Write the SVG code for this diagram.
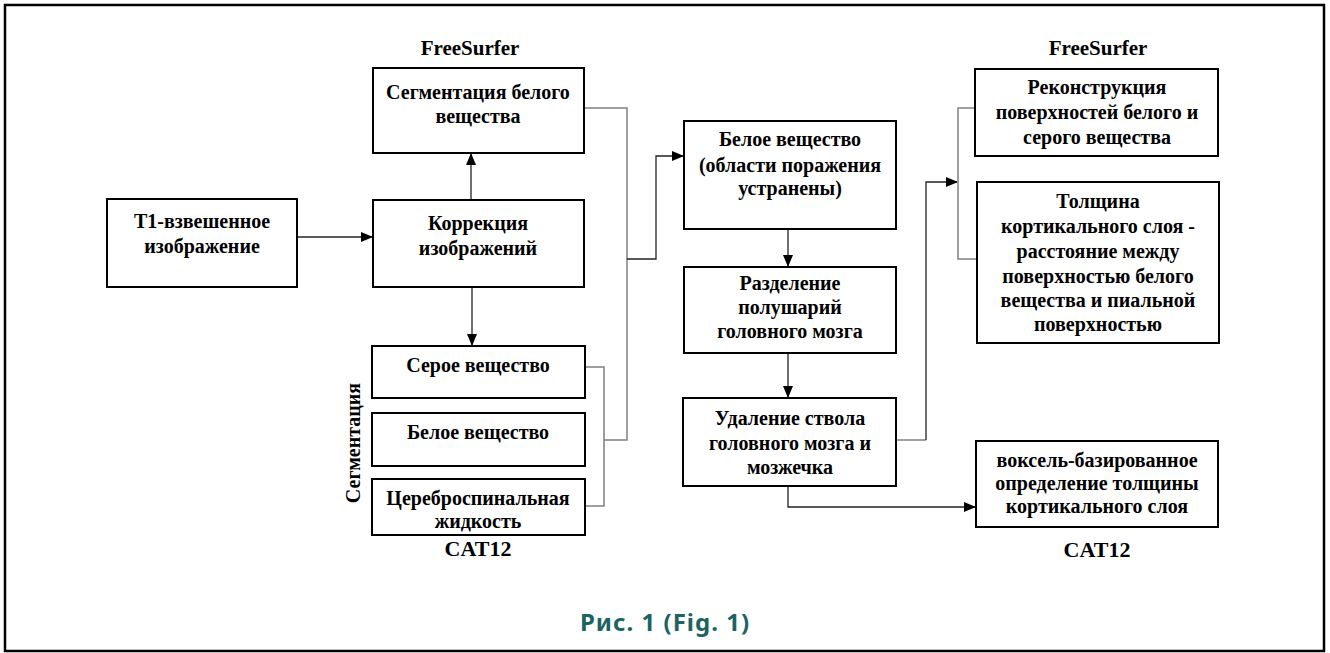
<svg xmlns="http://www.w3.org/2000/svg" width="1330" height="653" viewBox="0 0 1330 653">
<style>
.box{fill:#fff;stroke:#000;stroke-width:2}
.t{font-family:"Liberation Serif","Times New Roman",serif;font-weight:bold;font-size:20px;fill:#000;text-anchor:middle}
.lbl{font-family:"Liberation Serif","Times New Roman",serif;font-weight:bold;font-size:21px;fill:#000;text-anchor:middle}
.cat{font-family:"Liberation Serif","Times New Roman",serif;font-weight:bold;font-size:22px;fill:#000;text-anchor:middle}
.br{fill:none;stroke:#808080;stroke-width:1.5}
.ar{fill:none;stroke:#222;stroke-width:1.3}
.cap{font-family:"Noto Sans","DejaVu Sans",sans-serif;font-weight:bold;font-size:24px;letter-spacing:1px;fill:#1b6461;text-anchor:middle}
</style>
<defs>
<marker id="ah" markerUnits="userSpaceOnUse" markerWidth="12" markerHeight="10" refX="11" refY="5" orient="auto">
<path d="M0,0 L12,5 L0,10 Z" fill="#000"/>
</marker>
</defs>
<rect x="0" y="0" width="1330" height="653" fill="#fff"/>
<rect x="5" y="5" width="1319" height="646" fill="none" stroke="#000" stroke-width="2.5"/>

<g id="connectors">
<path class="ar" d="M297,237 L372,237" marker-end="url(#ah)"/>
<path class="ar" d="M471,200 L471,154" marker-end="url(#ah)"/>
<path class="ar" d="M472,287 L472,345" marker-end="url(#ah)"/>
<path class="br" d="M584,108 L627,108 L627,440 L604,440"/>
<path class="br" d="M585,367 L604,367 L604,506 L585,506"/>
<path class="ar" d="M627,259 L656,259 L656,156 L683,156" marker-end="url(#ah)"/>
<path class="ar" d="M788,229 L788,266" marker-end="url(#ah)"/>
<path class="ar" d="M788,353 L788,397" marker-end="url(#ah)"/>
<path class="br" d="M896,440 L926,440"/>
<path class="ar" d="M926,440 L926,182 L957,182" marker-end="url(#ah)"/>
<path class="br" d="M975,108 L958,108 L958,259 L977,259"/>
<path class="ar" d="M788,486 L788,507 L975,507" marker-end="url(#ah)"/>
</g>

<g id="label-freesurfer-left"><text class="lbl" x="470" y="55">FreeSurfer</text></g>
<g id="label-freesurfer-right"><text class="lbl" x="1098" y="55">FreeSurfer</text></g>
<g id="label-cat12-left"><text class="cat" x="478" y="556">CAT12</text></g>
<g id="label-cat12-right"><text class="cat" x="1097" y="557">CAT12</text></g>
<g id="label-segm"><text class="t" transform="translate(360,443) rotate(-90)" x="0" y="0">Сегментация</text></g>

<g id="t1">
<rect class="box" x="107" y="199" width="190" height="88"/>
<text class="t" x="202" y="228">Т1-взвешенное</text>
<text class="t" x="202" y="253">изображение</text>
</g>
<g id="wm-seg">
<rect class="box" x="373" y="68" width="211" height="85"/>
<text class="t" x="478" y="99">Сегментация белого</text>
<text class="t" x="478" y="123">вещества</text>
</g>
<g id="correction">
<rect class="box" x="373" y="200" width="211" height="87"/>
<text class="t" x="478" y="230">Коррекция</text>
<text class="t" x="478" y="255">изображений</text>
</g>
<g id="gm">
<rect class="box" x="372" y="346" width="213" height="52"/>
<text class="t" x="478" y="372">Серое вещество</text>
</g>
<g id="wm">
<rect class="box" x="372" y="413" width="213" height="53"/>
<text class="t" x="478" y="439">Белое вещество</text>
</g>
<g id="csf">
<rect x="372" y="479" width="213" height="56" fill="#fff"/>
<text class="t" x="478" y="505">Цереброспинальная</text>
<text class="t" x="478" y="528">жидкость</text>
<rect x="372" y="479" width="213" height="56" fill="none" stroke="#000" stroke-width="2"/>
</g>
<g id="wm-clean">
<rect class="box" x="684" y="121" width="212" height="108"/>
<text class="t" x="790" y="146">Белое вещество</text>
<text class="t" x="790" y="172">(области поражения</text>
<text class="t" x="790" y="195">устранены)</text>
</g>
<g id="hemi">
<rect class="box" x="684" y="267" width="212" height="86"/>
<text class="t" x="790" y="290">Разделение</text>
<text class="t" x="790" y="314">полушарий</text>
<text class="t" x="790" y="338">головного мозга</text>
</g>
<g id="brainstem">
<rect class="box" x="683" y="398" width="213" height="88"/>
<text class="t" x="790" y="425">Удаление ствола</text>
<text class="t" x="790" y="450">головного мозга и</text>
<text class="t" x="790" y="474">мозжечка</text>
</g>
<g id="recon">
<rect class="box" x="975" y="69" width="243" height="87"/>
<text class="t" x="1097" y="94">Реконструкция</text>
<text class="t" x="1097" y="119">поверхностей белого и</text>
<text class="t" x="1097" y="144">серого вещества</text>
</g>
<g id="thickness">
<rect class="box" x="977" y="182" width="242" height="161"/>
<text class="t" x="1098" y="208">Толщина</text>
<text class="t" x="1098" y="233">кортикального слоя -</text>
<text class="t" x="1098" y="258">расстояние между</text>
<text class="t" x="1098" y="283">поверхностью белого</text>
<text class="t" x="1098" y="307">вещества и пиальной</text>
<text class="t" x="1098" y="331">поверхностью</text>
</g>
<g id="voxel">
<rect class="box" x="976" y="441" width="242" height="86"/>
<text class="t" x="1097" y="467">воксель-базированное</text>
<text class="t" x="1097" y="490">определение толщины</text>
<text class="t" x="1097" y="513">кортикального слоя</text>
</g>
<g id="caption"><text class="cap" x="665" y="631">Рис. 1 (Fig. 1)</text></g>
</svg>
